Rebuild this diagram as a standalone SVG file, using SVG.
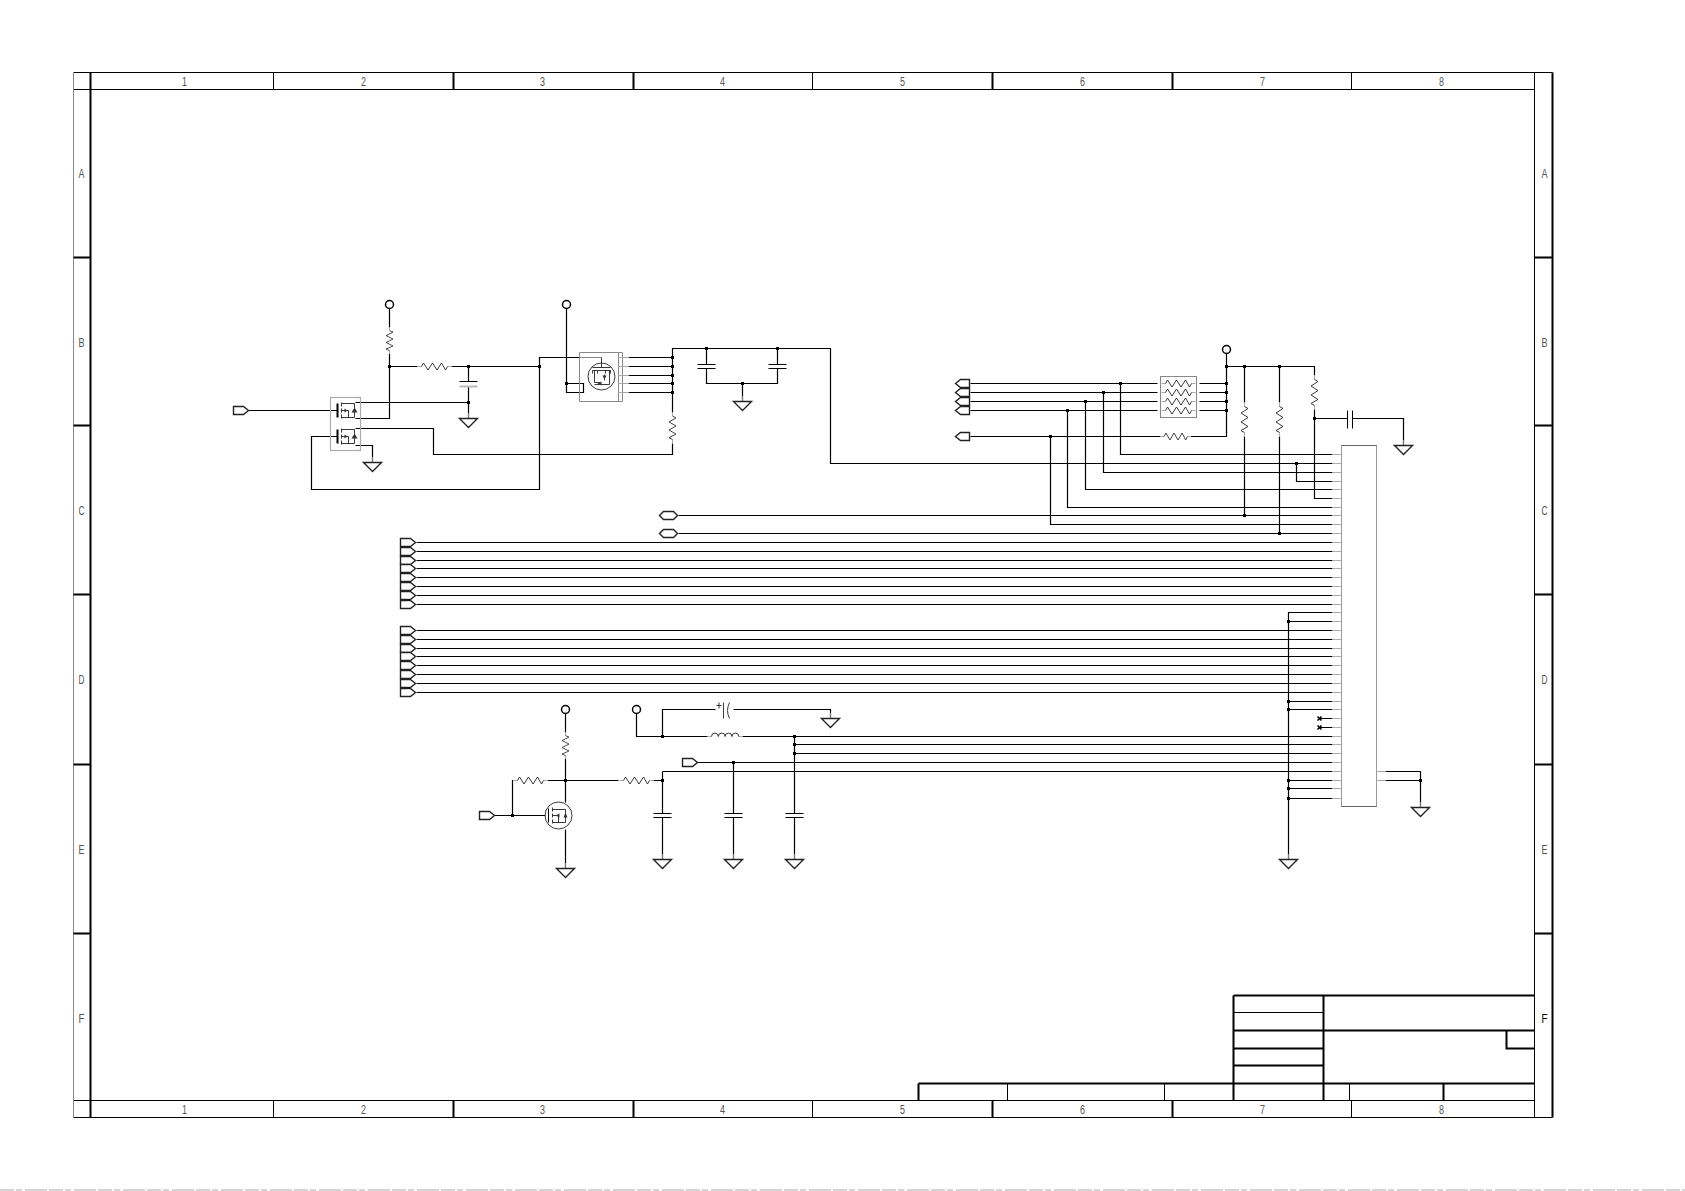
<svg xmlns="http://www.w3.org/2000/svg" xmlns:xlink="http://www.w3.org/1999/xlink" width="1685" height="1191" viewBox="0 0 1685 1191">
<style>
.w{fill:none;stroke:#000;stroke-width:1.2}
.s{fill:none;stroke:#222;stroke-width:.9}
.g{fill:none;stroke:#aaa;stroke-width:1.1}
.b{fill:none;stroke:#888;stroke-width:1}
.t1{fill:none;stroke:#000;stroke-width:1}
.t2{fill:none;stroke:#000;stroke-width:2}
.p{fill:#fff;stroke:#222;stroke-width:1.4}
text{font-family:"Liberation Sans",Arial,sans-serif;font-size:12px;fill:#555;text-anchor:middle}
</style>
<defs>
<rect id="j" x="-1.5" y="-1.5" width="3" height="3" fill="#000"/>
<g id="gnd"><path d="M0,-5V0" stroke="#777" stroke-width="1.4" fill="none"/><path d="M-9,0H9L0,9Z" class="p"/></g>
<path id="pr" d="M0,-4H10L15,0L10,4H0Z" class="p"/>
<path id="pl" d="M0,0L5,-4H14V4H5Z" class="p"/>
<path id="po" d="M0,0L4,-4H14L18,0L14,4H4Z" class="p"/>
<circle id="vc" r="4" fill="#fff" stroke="#000" stroke-width="1.5"/>
<g id="res"><path d="M0,0H4M30,0H34" class="g"/><path d="M4,0L6,-3.5L10.5,3.5L15,-3.5L19.5,3.5L24,-3.5L28,3.5L30,0" class="s"/></g>
<g id="cap"><path d="M-9,-2H9M-9,2H9" class="t1"/></g>
<g id="mos"><path d="M-3,-7V7" class="t2" stroke-width="1.4"/><path d="M1,-8V-4M1,-2V2M1,4V8M1,-7H14M1,7H14M14,-7V7M1,0H8V7" class="s"/><path d="M4,-2V2L7,0Z M11,2H17L14,-3Z" fill="#333" stroke="none"/></g>
</defs>
<path id="sheet-edge" d="M0,1190H1685" stroke="#aaa" stroke-width="1" stroke-dasharray="14 2 6 3 22 2" fill="none"/>
<g transform="translate(.5 .5)">
<g id="frame">
<path class="t1" d="M73,72H1552M73,89H1534M73,1100H1534M73,1117H1552M1534,72V1117M273,72V89M812,72V89M1351,72V89M273,1100V1117M812,1100V1117M1351,1100V1117"/>
<path class="b" d="M73,72V1117"/>
<path class="t2" d="M90,72V1117M1552,72V1117M453,72V89M633,72V89M992,72V89M1172,72V89M453,1100V1117M633,1100V1117M992,1100V1117M1172,1100V1117M73,257H90M73,425H90M73,594H90M73,764H90M73,933H90M1534,257H1552M1534,425H1552M1534,594H1552M1534,764H1552M1534,933H1552"/>
<g id="frame-labels">
<text x="184" y="85" textLength="5" lengthAdjust="spacingAndGlyphs">1</text><text x="363" y="85" textLength="5" lengthAdjust="spacingAndGlyphs">2</text><text x="542" y="85" textLength="5" lengthAdjust="spacingAndGlyphs">3</text><text x="722" y="85" textLength="5" lengthAdjust="spacingAndGlyphs">4</text><text x="902" y="85" textLength="5" lengthAdjust="spacingAndGlyphs">5</text><text x="1082" y="85" textLength="5" lengthAdjust="spacingAndGlyphs">6</text><text x="1262" y="85" textLength="5" lengthAdjust="spacingAndGlyphs">7</text><text x="1441" y="85" textLength="5" lengthAdjust="spacingAndGlyphs">8</text>
<text x="184" y="1113" textLength="5" lengthAdjust="spacingAndGlyphs">1</text><text x="363" y="1113" textLength="5" lengthAdjust="spacingAndGlyphs">2</text><text x="542" y="1113" textLength="5" lengthAdjust="spacingAndGlyphs">3</text><text x="722" y="1113" textLength="5" lengthAdjust="spacingAndGlyphs">4</text><text x="902" y="1113" textLength="5" lengthAdjust="spacingAndGlyphs">5</text><text x="1082" y="1113" textLength="5" lengthAdjust="spacingAndGlyphs">6</text><text x="1262" y="1113" textLength="5" lengthAdjust="spacingAndGlyphs">7</text><text x="1441" y="1113" textLength="5" lengthAdjust="spacingAndGlyphs">8</text>
<text x="81" y="177" textLength="6" lengthAdjust="spacingAndGlyphs">A</text><text x="81" y="346" textLength="6" lengthAdjust="spacingAndGlyphs">B</text><text x="81" y="514" textLength="6" lengthAdjust="spacingAndGlyphs">C</text><text x="81" y="683" textLength="6" lengthAdjust="spacingAndGlyphs">D</text><text x="81" y="853" textLength="6" lengthAdjust="spacingAndGlyphs">E</text><text x="81" y="1022" textLength="6" lengthAdjust="spacingAndGlyphs">F</text>
<text x="1544" y="177" textLength="6" lengthAdjust="spacingAndGlyphs">A</text><text x="1544" y="346" textLength="6" lengthAdjust="spacingAndGlyphs">B</text><text x="1544" y="514" textLength="6" lengthAdjust="spacingAndGlyphs">C</text><text x="1544" y="683" textLength="6" lengthAdjust="spacingAndGlyphs">D</text><text x="1544" y="853" textLength="6" lengthAdjust="spacingAndGlyphs">E</text><text x="1544" y="1022" textLength="6" lengthAdjust="spacingAndGlyphs" style="fill:#000">F</text>
</g>
</g>
<g id="titleblock">
<path class="t2" d="M1233,995H1534M1233,1030H1534M1233,1048H1323M1233,1065H1323M918,1083H1534M1233,995V1100M1323,995V1100M1506,1030V1048H1534M918,1083V1100M1443,1083V1100"/>
<path class="t1" d="M1233,1012H1323M1007,1083V1100M1164,1083V1100M1349,1083V1100"/>
</g>
<g id="connectors">
<path class="w" d="M248,410H337"/>
<path class="w" d="M389,308V327M389,353V418H355M389,366H417M451,366H539M468,366V381M468,386V413M355,402H468"/>
<path class="w" d="M355,428H433V454H672V443M672,412V348H830V463H1332"/>
<path class="w" d="M355,445H372V457"/>
<path class="w" d="M337,436H311V489H539V357H579"/>
<path class="w" d="M566,308V392H583V383H566"/>
<path class="w" d="M628,357H672M628,366H672M628,375H672M628,383H672M628,392H672"/>
<path class="w" d="M706,348V364M706,368V383H777V368M777,364V348M742,383V396"/>
<path class="w" d="M970,383H1157M1199,383H1226M970,392H1157M1199,392H1226M970,401H1157M1199,401H1226M970,410H1157M1199,410H1226M970,436H1160M1190,436H1226V353M1226,366H1314V375"/>
<path class="w" d="M1120,383V454H1332M1103,392V472H1332M1085,401V489H1332M1067,410V507H1332M1050,436V524H1332"/>
<path class="w" d="M1244,366V402M1244,436V515M1279,366V402M1279,436V533M1314,409V498H1332M1314,418H1347M1352,418H1403V440"/>
<path class="w" d="M1296,463V481H1332"/>
<path class="w" d="M678,515H1332M678,533H1332"/>
<path class="w" d="M416,542H1332M416,551H1332M416,560H1332M416,568H1332M416,577H1332M416,586H1332M416,595H1332M416,604H1332"/>
<path class="w" d="M416,630H1332M416,639H1332M416,648H1332M416,656H1332M416,665H1332M416,674H1332M416,683H1332M416,692H1332"/>
<path class="w" d="M1332,612H1288V854M1288,621H1332M1288,701H1332M1288,709H1332M1288,780H1332M1288,788H1332M1288,798H1332"/>
<path class="w" d="M1319,718H1332M1319,727H1332"/>
<path class="w" d="M1385,771H1420V802M1385,780H1420"/>
<path class="w" d="M565,713V732M565,758V802M565,829V863M480,815H545M512,815V780H513M547,780H618M653,780H662M662,771V813M662,817V854M662,771H1332"/>
<path class="w" d="M636,713V736H707M662,736V709H715M733,709H830V713M742,736H1332M794,736V813M794,817V854M794,744H1332M794,753H1332"/>
<path class="w" d="M697,762H1332M733,762V813M733,817V854"/>
</g>
<g id="junctions">
<use xlink:href="#j" x="389" y="366"/><use xlink:href="#j" x="468" y="366"/><use xlink:href="#j" x="468" y="402"/><use xlink:href="#j" x="539" y="366"/><use xlink:href="#j" x="566" y="383"/>
<use xlink:href="#j" x="672" y="357"/><use xlink:href="#j" x="672" y="366"/><use xlink:href="#j" x="672" y="375"/><use xlink:href="#j" x="672" y="383"/><use xlink:href="#j" x="672" y="392"/>
<use xlink:href="#j" x="706" y="348"/><use xlink:href="#j" x="777" y="348"/><use xlink:href="#j" x="742" y="383"/>
<use xlink:href="#j" x="1120" y="383"/><use xlink:href="#j" x="1103" y="392"/><use xlink:href="#j" x="1085" y="401"/><use xlink:href="#j" x="1067" y="410"/><use xlink:href="#j" x="1050" y="436"/>
<use xlink:href="#j" x="1226" y="366"/><use xlink:href="#j" x="1226" y="383"/><use xlink:href="#j" x="1226" y="392"/><use xlink:href="#j" x="1226" y="401"/><use xlink:href="#j" x="1226" y="410"/>
<use xlink:href="#j" x="1244" y="366"/><use xlink:href="#j" x="1279" y="366"/><use xlink:href="#j" x="1314" y="418"/><use xlink:href="#j" x="1244" y="515"/><use xlink:href="#j" x="1279" y="533"/><use xlink:href="#j" x="1296" y="463"/>
<use xlink:href="#j" x="1288" y="621"/><use xlink:href="#j" x="1288" y="701"/><use xlink:href="#j" x="1288" y="709"/><use xlink:href="#j" x="1288" y="780"/><use xlink:href="#j" x="1288" y="788"/><use xlink:href="#j" x="1288" y="798"/><use xlink:href="#j" x="1420" y="780"/>
<use xlink:href="#j" x="565" y="780"/><use xlink:href="#j" x="512" y="815"/><use xlink:href="#j" x="662" y="780"/><use xlink:href="#j" x="662" y="736"/><use xlink:href="#j" x="733" y="762"/><use xlink:href="#j" x="794" y="736"/><use xlink:href="#j" x="794" y="744"/><use xlink:href="#j" x="794" y="753"/>
</g>
<g id="U1"><rect x="330" y="397" width="30" height="53" fill="none" stroke="#aaa" stroke-width="1.2"/><use xlink:href="#mos" transform="translate(340 410)"/><use xlink:href="#mos" transform="translate(340 436)"/></g>
<g id="U2"><path class="b" d="M579,352H622V401H579ZM618,352V401M579,357H601"/><circle cx="601" cy="376" r="13.5" class="s"/><path class="g" d="M618,357H628M618,366H628M618,375H628M618,383H628M618,392H628"/><path class="s" d="M601,357V367M592,367H610M592,370V373M597,370V373M605,370V373M610,370V373M592,370H610M594,370V382M609,370V384M594,384H609M594,382H600M604,374V380"/><path d="M597,383L601,381V385ZM602,375H606L604,379Z" fill="#333"/></g>
<g id="R1"><use xlink:href="#res" transform="translate(389 327) rotate(90) scale(.77 1)"/></g>
<g id="R2"><use xlink:href="#res" transform="translate(417 366)"/></g>
<g id="C1"><path d="M459,381H477" class="t1"/><path d="M459,386H477" stroke="#bbb" stroke-width="2"/></g>
<g id="R3"><use xlink:href="#res" transform="translate(672 412) rotate(90) scale(.9 1)"/></g>
<g id="C2"><use xlink:href="#cap" transform="translate(706 366)"/></g>
<g id="C3"><use xlink:href="#cap" transform="translate(777 366)"/></g>
<g id="RN1"><rect x="1160" y="376" width="36" height="41" fill="none" stroke="#888" stroke-width="1"/><use xlink:href="#res" transform="translate(1161 383)"/><use xlink:href="#res" transform="translate(1161 392)"/><use xlink:href="#res" transform="translate(1161 401)"/><use xlink:href="#res" transform="translate(1161 410)"/></g>
<g id="R4"><use xlink:href="#res" transform="translate(1160 436) scale(.9 1)"/></g>
<g id="R5"><use xlink:href="#res" transform="translate(1244 402) rotate(90)"/></g>
<g id="R6"><use xlink:href="#res" transform="translate(1279 402) rotate(90)"/></g>
<g id="R7"><use xlink:href="#res" transform="translate(1314 375) rotate(90)"/></g>
<g id="C4"><path d="M1347,410V428M1352,410V428" class="t1"/></g>
<g id="J1"><rect x="1341" y="445" width="35" height="361" fill="#fff" stroke="#999" stroke-width="1"/><path d="M1341,445H1376M1341,806H1376" stroke="#666" fill="none"/><path class="g" d="M1332,454H1341M1332,463H1341M1332,472H1341M1332,481H1341M1332,489H1341M1332,498H1341M1332,507H1341M1332,515H1341M1332,524H1341M1332,533H1341M1332,542H1341M1332,551H1341M1332,560H1341M1332,568H1341M1332,577H1341M1332,586H1341M1332,595H1341M1332,604H1341M1332,612H1341M1332,621H1341M1332,630H1341M1332,639H1341M1332,648H1341M1332,656H1341M1332,665H1341M1332,674H1341M1332,683H1341M1332,692H1341M1332,701H1341M1332,709H1341M1332,718H1341M1332,727H1341M1332,736H1341M1332,744H1341M1332,753H1341M1332,762H1341M1332,771H1341M1332,780H1341M1332,788H1341M1332,798H1341M1376,771H1385M1376,780H1385"/></g>
<g id="NC"><path d="M1317,716L1321,720M1321,716L1317,720M1317,725L1321,729M1321,725L1317,729" stroke="#000" stroke-width="1.6" fill="none"/></g>
<g id="R8"><use xlink:href="#res" transform="translate(565 732) rotate(90) scale(.77 1)"/></g>
<g id="R9"><use xlink:href="#res" transform="translate(513 780)"/></g>
<g id="R10"><use xlink:href="#res" transform="translate(619 780)"/></g>
<g id="Q1"><circle cx="558" cy="815" r="13.5" class="s"/><path class="t1" d="M548,808V822"/><path class="s" d="M552,807V811M552,813V817M552,819V823M552,809H565M552,822H565M565,809V822M552,815H558V822"/><path d="M555,815L559,813V817ZM563,817H567L565,812Z" fill="#333"/></g>
<g id="L1"><path class="g" d="M707,736H711M738,736H742"/><path class="s" d="M711,736a3.4,3.4 0 0 1 6.8,0a3.4,3.4 0 0 1 6.8,0a3.4,3.4 0 0 1 6.8,0a3.4,3.4 0 0 1 6.8,0"/></g>
<g id="C5"><path class="s" d="M716,705H721M718.5,702V708M723,702V718M729,702Q725,710 729,718"/></g>
<g id="C6"><use xlink:href="#cap" transform="translate(662 815)"/></g>
<g id="C7"><use xlink:href="#cap" transform="translate(733 815)"/></g>
<g id="C8"><use xlink:href="#cap" transform="translate(794 815)"/></g>
<g id="P1"><use xlink:href="#pr" x="233" y="410"/></g>
<g id="P2"><use xlink:href="#vc" x="389" y="304"/></g>
<g id="P3"><use xlink:href="#vc" x="566" y="304"/></g>
<g id="P4"><use xlink:href="#vc" x="1226" y="349"/></g>
<g id="P5"><use xlink:href="#vc" x="565" y="709"/></g>
<g id="P6"><use xlink:href="#vc" x="636" y="709"/></g>
<g id="P7"><use xlink:href="#pl" x="955" y="383"/><use xlink:href="#pl" x="955" y="392"/><use xlink:href="#pl" x="955" y="401"/><use xlink:href="#pl" x="955" y="410"/><use xlink:href="#pl" x="955" y="436"/></g>
<g id="P8"><use xlink:href="#po" x="659" y="515"/><use xlink:href="#po" x="659" y="533"/></g>
<g id="P9"><use xlink:href="#pr" x="400" y="542"/><use xlink:href="#pr" x="400" y="551"/><use xlink:href="#pr" x="400" y="560"/><use xlink:href="#pr" x="400" y="568"/><use xlink:href="#pr" x="400" y="577"/><use xlink:href="#pr" x="400" y="586"/><use xlink:href="#pr" x="400" y="595"/><use xlink:href="#pr" x="400" y="604"/></g>
<g id="P10"><use xlink:href="#pr" x="400" y="630"/><use xlink:href="#pr" x="400" y="639"/><use xlink:href="#pr" x="400" y="648"/><use xlink:href="#pr" x="400" y="656"/><use xlink:href="#pr" x="400" y="665"/><use xlink:href="#pr" x="400" y="674"/><use xlink:href="#pr" x="400" y="683"/><use xlink:href="#pr" x="400" y="692"/></g>
<g id="P11"><use xlink:href="#pr" x="479" y="815"/></g>
<g id="P12"><use xlink:href="#pr" x="682" y="762"/></g>
<g id="GND1"><use xlink:href="#gnd" x="468" y="418"/></g>
<g id="GND2"><use xlink:href="#gnd" x="372" y="462"/></g>
<g id="GND3"><use xlink:href="#gnd" x="742" y="401"/></g>
<g id="GND4"><use xlink:href="#gnd" x="1403" y="445"/></g>
<g id="GND5"><use xlink:href="#gnd" x="830" y="718"/></g>
<g id="GND6"><use xlink:href="#gnd" x="565" y="868"/></g>
<g id="GND7"><use xlink:href="#gnd" x="662" y="859"/></g>
<g id="GND8"><use xlink:href="#gnd" x="733" y="859"/></g>
<g id="GND9"><use xlink:href="#gnd" x="794" y="859"/></g>
<g id="GND10"><use xlink:href="#gnd" x="1288" y="859"/></g>
<g id="GND11"><use xlink:href="#gnd" x="1420" y="807"/></g>
</g>
</svg>
